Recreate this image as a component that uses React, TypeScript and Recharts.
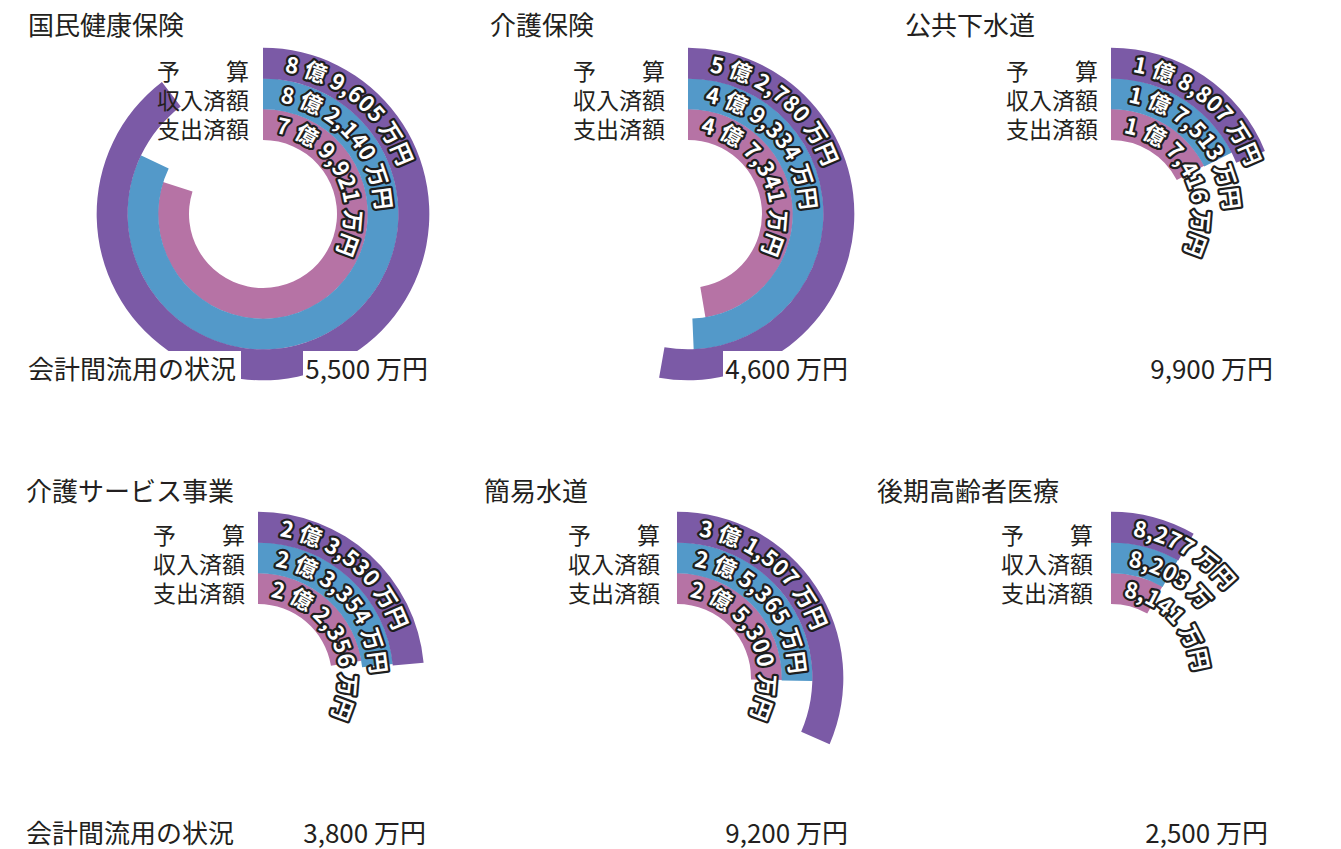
import React from 'react';
import { RadialBarChart, RadialBar, PolarAngleAxis, Cell, LabelList } from 'recharts';

// 万円単位。リングは内側から 支出済額 / 収入済額 / 予算
const panelNames = ['国民健康保険', '介護保険', '公共下水道', '介護サービス事業', '簡易水道', '後期高齢者医療'];
const budget = [89605, 52780, 18807, 23530, 31507, 8277];
const revenue = [82140, 49334, 17513, 23354, 25365, 8203];
const spent = [79921, 47341, 17416, 22356, 25300, 8141];
const budgetLabels = ['8 億 9,605 万円', '5 億 2,780 万円', '1 億 8,807 万円', '2 億 3,530 万円', '3 億 1,507 万円', '8,277 万円'];
const revenueLabels = ['8 億 2,140 万円', '4 億 9,334 万円', '1 億 7,513 万円', '2 億 3,354 万円', '2 億 5,365 万円', '8,203 万'];
const spentLabels = ['7 億 9,921 万円', '4 億 7,341 万円', '1 億 7,416 万円', '2 億 2,356 万円', '2 億 5,300 万円', '8,141 万円'];
const transfers = ['5,500 万円', '4,600 万円', '9,900 万円', '3,800 万円', '9,200 万円', '2,500 万円'];
const rowNames = ['支出済額', '収入済額', '予　　算'];
const FULL_SCALE = 100000; // 10億円で一周

const COLORS = ['#b673a5', '#5399c9', '#7b5aa6'];
const TEXT = '#231f20';
const FONT = '"Noto Sans CJK JP", "Noto Sans", sans-serif';

// panel layout: ring centre, title, left labels offset, right edge of footer value
const layout = [
  { cx: 263, cy: 214, titleX: 28, titleY: 24, labelGap: 14, valueRight: 428, footY: 368 },
  { cx: 688, cy: 214, titleX: 490, titleY: 24, labelGap: 23, valueRight: 848, footY: 368 },
  { cx: 1111, cy: 214, titleX: 905, titleY: 24, labelGap: 13, valueRight: 1273, footY: 368 },
  { cx: 258, cy: 678, titleX: 26, titleY: 490, labelGap: 13, valueRight: 426, footY: 832 },
  { cx: 677, cy: 678, titleX: 484, titleY: 490, labelGap: 17, valueRight: 848, footY: 832 },
  { cx: 1111, cy: 678, titleX: 877, titleY: 490, labelGap: 18, valueRight: 1268, footY: 832 },
];

const BOX = 400;
const INNER = 74;
const OUTER = 166;

const ArcLabel = (props: any) => {
  const { viewBox, value, index, panel } = props;
  if (!viewBox) return null;
  const { cx, cy, innerRadius, outerRadius } = viewBox;
  const r = (innerRadius + outerRadius) / 2 - 7.5;
  const id = `arc-${panel}-${index}`;
  const d = `M ${cx} ${cy - r} A ${r} ${r} 0 0 1 ${cx} ${cy + r} A ${r} ${r} 0 0 1 ${cx} ${cy - r}`;
  const offset = (r * 8.5 * Math.PI) / 180;
  return (
    <g>
      <path id={id} d={d} fill="none" stroke="none" />
      <text
        fontFamily={FONT}
        fontSize={22}
        fontWeight={700}
        letterSpacing={0.3}
        fill="#fff"
        stroke="#1e1e1e"
        strokeWidth={4.5}
        strokeLinejoin="round"
        paintOrder="stroke"
      >
        <textPath href={`#${id}`} startOffset={offset}>
          {value}
        </textPath>
      </text>
    </g>
  );
};

const Panel = ({ i }: { i: number }) => {
  const p = layout[i];
  const rows = [
    { name: rowNames[0], value: spent[i], label: spentLabels[i] },
    { name: rowNames[1], value: revenue[i], label: revenueLabels[i] },
    { name: rowNames[2], value: budget[i], label: budgetLabels[i] },
  ];
  return (
    <div style={{ position: 'absolute', left: p.cx - BOX / 2, top: p.cy - BOX / 2, width: BOX, height: BOX }}>
      <RadialBarChart
        width={BOX}
        height={BOX}
        cx={BOX / 2}
        cy={BOX / 2}
        innerRadius={INNER}
        outerRadius={OUTER}
        barCategoryGap={0}
        data={rows}
        startAngle={90}
        endAngle={-270}
        margin={{ top: 0, right: 0, bottom: 0, left: 0 }}
      >
        <PolarAngleAxis type="number" domain={[0, FULL_SCALE]} tick={false} axisLine={false} />
        <RadialBar dataKey="value" isAnimationActive={false}>
          {rows.map((r, k) => (
            <Cell key={r.name} fill={COLORS[k]} />
          ))}
          <LabelList dataKey="label" content={(lp: any) => <ArcLabel {...lp} panel={i} />} />
        </RadialBar>
      </RadialBarChart>
    </div>
  );
};

const txt: React.CSSProperties = {
  position: 'absolute',
  fontFamily: FONT,
  color: TEXT,
  whiteSpace: 'nowrap',
};

export default function App() {
  return (
    <div style={{ position: 'absolute', left: 0, top: 0, width: 1341, height: 849, background: '#fff', overflow: 'hidden' }}>
      {layout.map((_, i) => (
        <Panel key={i} i={i} />
      ))}
      {layout.map((p, i) => (
        <React.Fragment key={'t' + i}>
          <div style={{ ...txt, left: p.titleX, top: p.titleY - 17, fontSize: 26, lineHeight: '34px' }}>{panelNames[i]}</div>
          {[2, 1, 0].map((k, j) => (
            <div
              key={k}
              style={{
                ...txt,
                right: 1341 - (p.cx - p.labelGap),
                top: p.cy - 144 + j * 29 - 14,
                fontSize: 23,
                lineHeight: '28px',
              }}
            >
              {rowNames[k]}
            </div>
          ))}
          <div
            style={{
              ...txt,
              right: 1341 - p.valueRight,
              top: p.footY - 17,
              fontSize: 26,
              lineHeight: '34px',
              background: '#fff',
              paddingLeft: 2,
            }}
          >
            {transfers[i]}
          </div>
        </React.Fragment>
      ))}
      {[0, 3].map((i) => (
        <div
          key={'f' + i}
          style={{
            ...txt,
            left: layout[i].titleX,
            top: layout[i].footY - 17,
            fontSize: 26,
            lineHeight: '34px',
            background: '#fff',
            paddingRight: 5,
          }}
        >
          会計間流用の状況
        </div>
      ))}
    </div>
  );
}
